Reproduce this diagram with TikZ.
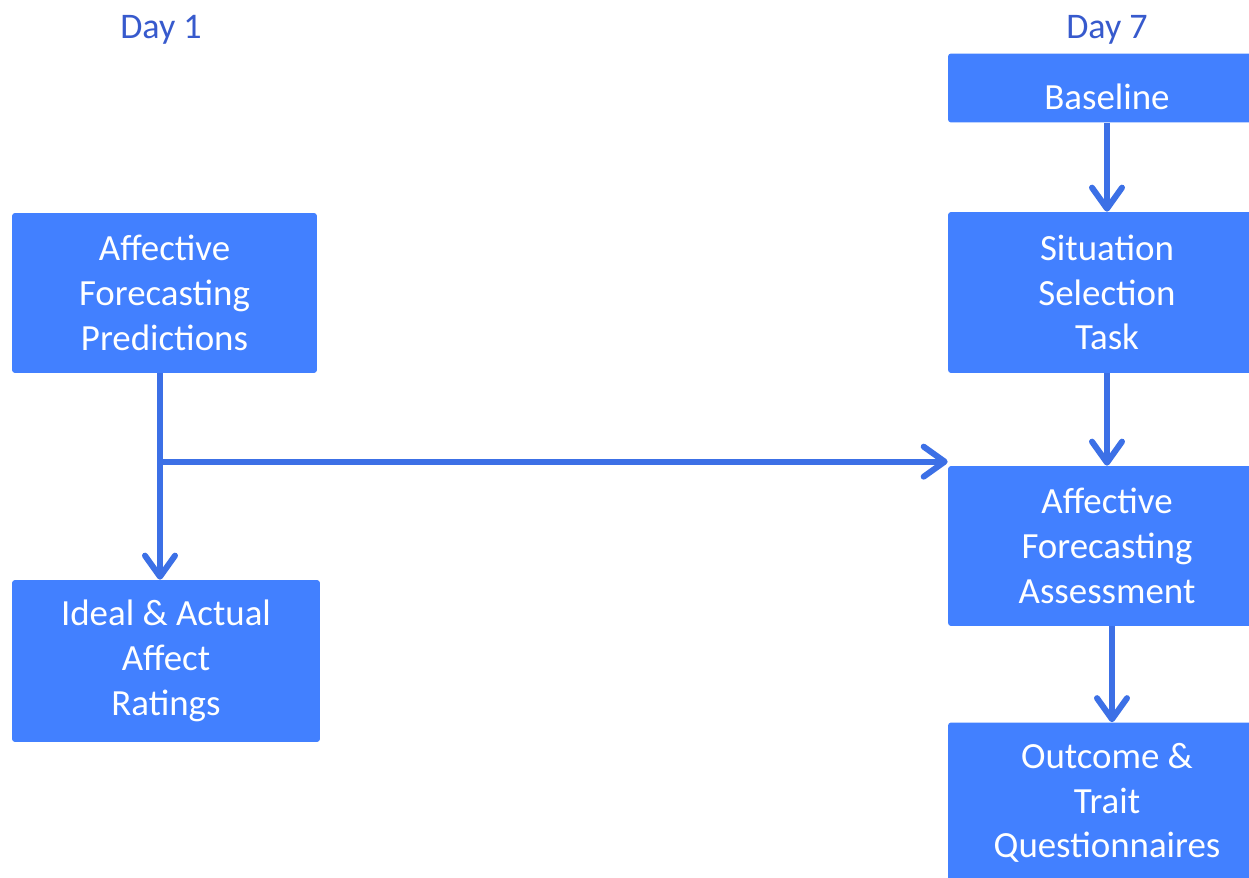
\documentclass[tikz,border=0pt]{standalone}
\usepackage{fontspec}
\setmainfont{Carlito}
\usetikzlibrary{arrows.meta,positioning}
\definecolor{boxblue}{RGB}{66,128,255}
\definecolor{lineblue}{RGB}{60,112,230}
\definecolor{dayblue}{RGB}{55,90,205}

\begin{document}
\begin{tikzpicture}[x=0.02cm, y=-0.02cm,
    >={Straight Barb[length=0.42cm, width=0.6cm, round]},
    stepbox/.style={fill=boxblue, rounded corners=0.06cm, text=white, align=center,
      font=\fontsize{21}{25.5}\selectfont, inner sep=0pt,
      execute at begin node=\rule{0pt}{25pt}},
    flow/.style={->, draw=lineblue, line width=0.12cm},
    day/.style={text=dayblue, font=\fontsize{20.5}{24}\selectfont}]
  % Canvas
  \clip (0,0) rectangle (1249,878);
  \fill[white] (0,0) rectangle (1249,878);

  % Day labels
  \node[day] (day1) at (161,30) {Day 1};
  \node[day] (day7) at (1107,30) {Day 7};

  % Day 1 boxes
  \node[stepbox, minimum width=6.1cm, minimum height=3.2cm] (pred) at (164.5,293)
    {Affective\\Forecasting\\Predictions};
  \node[stepbox, minimum width=6.16cm, minimum height=3.24cm] (ratings) at (166,661)
    {Ideal \& Actual\\Affect\\Ratings};

  % Day 7 boxes
  \node[stepbox, minimum width=6.36cm, minimum height=1.38cm] (base) at (1107,88) {Baseline};
  \node[stepbox, minimum width=6.36cm, minimum height=3.22cm] (sit) at (1107,292.5)
    {Situation\\Selection\\Task};
  \node[stepbox, minimum width=6.36cm, minimum height=3.2cm] (assess) at (1107,546)
    {Affective\\Forecasting\\Assessment};
  \node[stepbox, minimum width=6.36cm, minimum height=3.22cm] (outcome) at (1107,803)
    {Outcome \&\\Trait\\Questionnaires};

  % Arrows
  \coordinate (top) at ([xshift=-0.09cm]pred.south);
  \draw[flow] (top) -- (top |- ratings.north);
  \coordinate (split) at ([yshift=0.08cm]top |- assess.north west);
  \draw[flow] (split) -- ([yshift=0.08cm]assess.north west);
  \draw[flow] (base) -- (sit);
  \draw[flow] (sit) -- (assess);
  \draw[flow] ([xshift=0.1cm]assess.south) -- ([xshift=0.1cm]outcome.north);
\end{tikzpicture}
\end{document}
